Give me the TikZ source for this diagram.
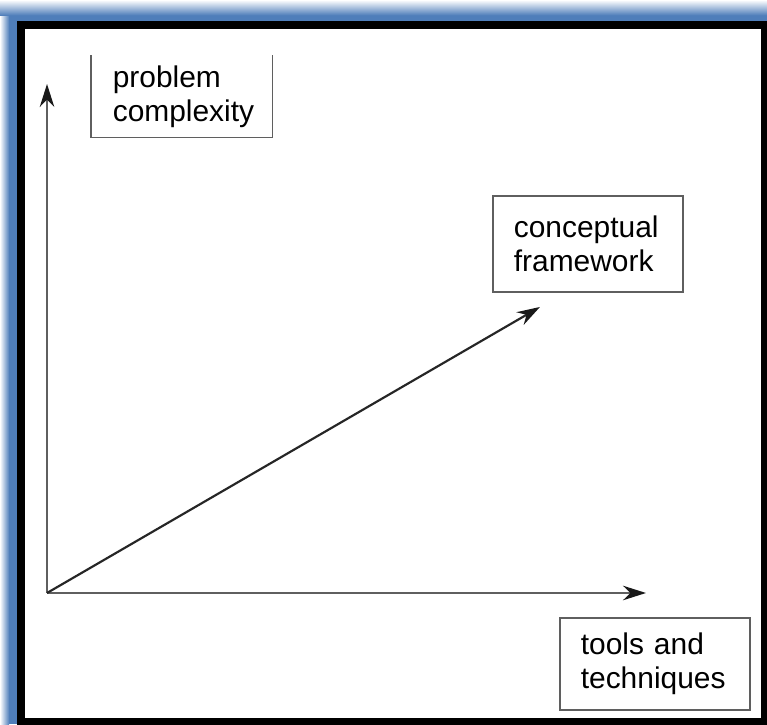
\documentclass[tikz,border=0pt]{standalone}
\usepackage{fontspec}
\setmainfont{Liberation Sans}
\usetikzlibrary{arrows.meta}
\definecolor{blu}{RGB}{79,126,186}
\definecolor{grigio}{RGB}{95,95,95}
\tikzset{
  riquadro/.style={draw=grigio,line width=0.6pt,anchor=north west,inner xsep=0.274cm,inner ysep=0pt,align=left,font=\fontsize{11.1}{12.6}\selectfont},
  freccia/.style={-{Stealth[length=3mm,width=1.9mm,color=black!90]},line width=0.6pt}
}
\begin{document}
\begin{tikzpicture}
        \useasboundingbox (0,0) rectangle (10,9.4394);
        %cornice blu sfumata
        \fill[blu](0,0)rectangle(10,9.4394);
        \shade[left color=white,right color=blu](0,0)rectangle(0.12,9.4394);
        \shade[top color=white,bottom color=blu](0,9.24)rectangle(10,9.4394);
        %bordo nero e fondo bianco
        \draw[line width=0.104cm,fill=white](0.274,0.026)rectangle(9.974,9.114);

        %punti degli assi
        \coordinate (O) at (0.613,1.708);
        \coordinate (ytip) at (0.613,8.344);
        \coordinate (xtip) at (8.422,1.708);
        \coordinate (dtip) at (7.040,5.437);

        %disegno assi
        \draw[freccia,grigio](O)--(ytip);
        \draw[freccia,grigio](O)--(xtip);
        %disegno freccia diagonale
        \draw[freccia,black!85,line width=0.8pt](O)--(dtip);

        %riquadro asse y (aperto in alto)
        \node[riquadro,draw=none,text width=1.799cm,minimum height=1.056cm] (pc) at (1.186,8.722) {problem\\complexity};
        \draw[grigio,line width=0.6pt](pc.north west)--(pc.south west)--(pc.south east)--(pc.north east);
        %riquadro diagonale
        \node[riquadro,text width=1.929cm,minimum height=1.252cm] (cf) at (6.415,6.897) {conceptual\\framework};
        %riquadro asse x
        \node[riquadro,text width=1.929cm,minimum height=1.199cm] (tt) at (7.288,1.395) {tools and\\techniques};
\end{tikzpicture}
\end{document}
